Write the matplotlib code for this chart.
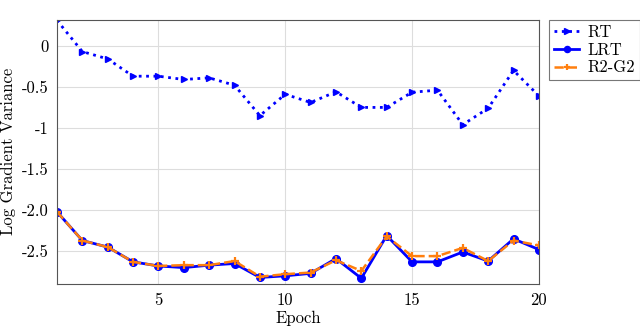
import matplotlib
import matplotlib.pyplot as plt

matplotlib.use("Agg")

epochs = list(range(1, 21))
rt = [0.31, -0.07, -0.16, -0.37, -0.37, -0.41, -0.39, -0.48, -0.85, -0.59,
      -0.69, -0.56, -0.75, -0.75, -0.565, -0.54, -0.96, -0.76, -0.30, -0.61]
lrt = [-2.02, -2.37, -2.45, -2.63, -2.68, -2.70, -2.67, -2.65, -2.82, -2.80,
       -2.77, -2.59, -2.83, -2.31, -2.63, -2.63, -2.51, -2.62, -2.35, -2.48]
r2g2 = [-2.02, -2.37, -2.45, -2.63, -2.68, -2.67, -2.67, -2.62, -2.81, -2.78,
        -2.76, -2.61, -2.74, -2.32, -2.56, -2.56, -2.46, -2.62, -2.37, -2.43]

x_ticks = [5, 10, 15, 20]
y_ticks = [0, -0.5, -1, -1.5, -2.0, -2.5]
y_tick_labels = ["0", "-0.5", "-1", "-1.5", "-2.0", "-2.5"]

plt.rcParams["font.family"] = ["cmr10", "DejaVu Serif"]
plt.rcParams["font.size"] = 12

fig = plt.figure(figsize=(6.4, 3.28), dpi=100)
ax = fig.add_axes([0.089, 0.134, 0.753, 0.8065])

ax.plot(epochs, rt, color="#0000ff", linestyle=":", linewidth=2.0,
        marker=">", markersize=5, label="RT")
ax.plot(epochs, lrt, color="#0000ff", linestyle="-", linewidth=2.0,
        marker="o", markersize=5.5, label="LRT")
ax.plot(epochs, r2g2, color="#ff7f0e", linestyle="--", linewidth=1.8,
        marker="+", markersize=5.5, markeredgewidth=1.6, label="R2-G2")

ax.set_xlim(1, 20)
ax.set_ylim(-2.9, 0.32)
ax.set_xticks(x_ticks)
ax.set_xticklabels([str(t) for t in x_ticks])
ax.set_yticks(y_ticks)
ax.set_yticklabels(y_tick_labels)
ax.tick_params(length=0, pad=6)
ax.grid(True, color="#dddddd", linewidth=0.8)
ax.set_axisbelow(True)
for sp in ax.spines.values():
    sp.set_color("#555555")
    sp.set_linewidth(0.8)

ax.set_xlabel("Epoch", labelpad=2)
ax.set_ylabel("Log Gradient Variance", labelpad=4)

leg = ax.legend(loc="upper left", bbox_to_anchor=(1.022, 1.0), frameon=True,
                fancybox=False, edgecolor="#555555", handlelength=1.5,
                borderpad=0.3, labelspacing=0.15, handletextpad=0.5,
                borderaxespad=0.0, markerscale=0.8)
leg.get_frame().set_linewidth(0.8)

fig.savefig("out.png", dpi=100)
